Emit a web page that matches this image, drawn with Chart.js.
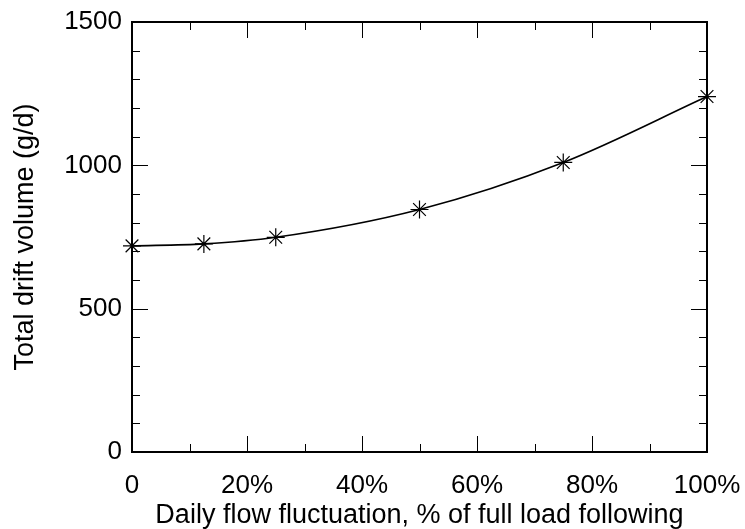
<!DOCTYPE html>
<html>
<head>
<meta charset="utf-8">
<script src="https://cdn.jsdelivr.net/npm/chart.js@4/dist/chart.umd.min.js"></script>
<style>
  html, body { margin: 0; padding: 0; background: #fff; }
  #wrap { width: 745px; height: 529px; }
</style>
</head>
<body>
<div id="wrap"><canvas id="chart" width="745" height="529"></canvas></div>
<script>
// flow fluctuation (% of full load following) vs total drift volume
const fluctuation = [0, 12.5, 25, 50, 75, 100];
const driftVolume = [719, 726, 749, 846, 1010, 1240];
const xTicks = [0, 20, 40, 60, 80, 100];
const yTicks = [0, 500, 1000, 1500];

const FONT = "'Liberation Sans', Arial, sans-serif";

// box around the plot with inward ticks on all four sides
const framePlugin = {
  id: "frame",
  afterDraw(chart) {
    const { ctx, chartArea: a, scales } = chart;
    const xs = scales.x, ys = scales.y;
    ctx.save();
    ctx.strokeStyle = "#000";
    ctx.lineWidth = 1;
    ctx.beginPath();
    for (let v = 0; v <= 100; v += 10) {
      const px = Math.round(xs.getPixelForValue(v)) + 0.5;
      const len = v % 20 === 0 ? 16 : 8;
      ctx.moveTo(px, a.bottom); ctx.lineTo(px, a.bottom - len);
      ctx.moveTo(px, a.top); ctx.lineTo(px, a.top + len);
    }
    for (let v = 0; v <= 1500; v += 100) {
      const py = Math.round(ys.getPixelForValue(v)) + 0.5;
      const len = v % 500 === 0 ? 16 : 8;
      ctx.moveTo(a.left, py); ctx.lineTo(a.left + len, py);
      ctx.moveTo(a.right, py); ctx.lineTo(a.right - len, py);
    }
    ctx.stroke();
    ctx.lineWidth = 2;
    ctx.strokeRect(a.left, a.top, a.right - a.left, a.bottom - a.top);
    ctx.restore();
  }
};

new Chart(document.getElementById("chart"), {
  type: "line",
  data: {
    datasets: [{
      data: fluctuation.map((x, i) => ({ x: x, y: driftVolume[i] })),
      borderColor: "#000",
      borderWidth: 1.6,
      cubicInterpolationMode: "monotone",
      pointStyle: "star",
      pointRadius: 9,
      pointBorderWidth: 1.2,
      pointBorderColor: "#000",
      pointBackgroundColor: "#000",
      clip: false
    }]
  },
  options: {
    responsive: false,
    animation: false,
    layout: { padding: { top: 22, right: 38, left: 0, bottom: 0 } },
    plugins: { legend: { display: false }, tooltip: { enabled: false } },
    scales: {
      x: {
        type: "linear",
        min: 0,
        max: 100,
        afterBuildTicks: (s) => { s.ticks = xTicks.map(v => ({ value: v })); },
        afterFit: (s) => { s.height = 77; s.paddingLeft = 0; s.paddingRight = 0; },
        grid: { display: false, drawTicks: false },
        border: { display: false },
        ticks: {
          color: "#000",
          padding: 18,
          maxRotation: 0,
          font: { family: FONT, size: 26 },
          callback: (v) => v === 0 ? "0" : v + "%"
        },
        title: {
          display: true,
          text: "Daily flow fluctuation, % of full load following",
          color: "#000",
          padding: { top: 0, bottom: 0 },
          font: { family: FONT, size: 27, lineHeight: 1.0 }
        }
      },
      y: {
        min: 0,
        max: 1500,
        afterBuildTicks: (s) => { s.ticks = yTicks.map(v => ({ value: v })); },
        afterFit: (s) => { s.width = 132; s.paddingTop = 0; s.paddingBottom = 0; },
        grid: { display: false, drawTicks: false },
        border: { display: false },
        ticks: {
          color: "#000",
          padding: 10,
          font: { family: FONT, size: 26 },
          callback: (v) => String(v)
        },
        title: {
          display: true,
          text: "Total drift volume (g/d)",
          color: "#000",
          padding: { top: 12, bottom: 0 },
          font: { family: FONT, size: 27, lineHeight: 1.0 }
        }
      }
    }
  },
  plugins: [framePlugin]
});
</script>
</body>
</html>
